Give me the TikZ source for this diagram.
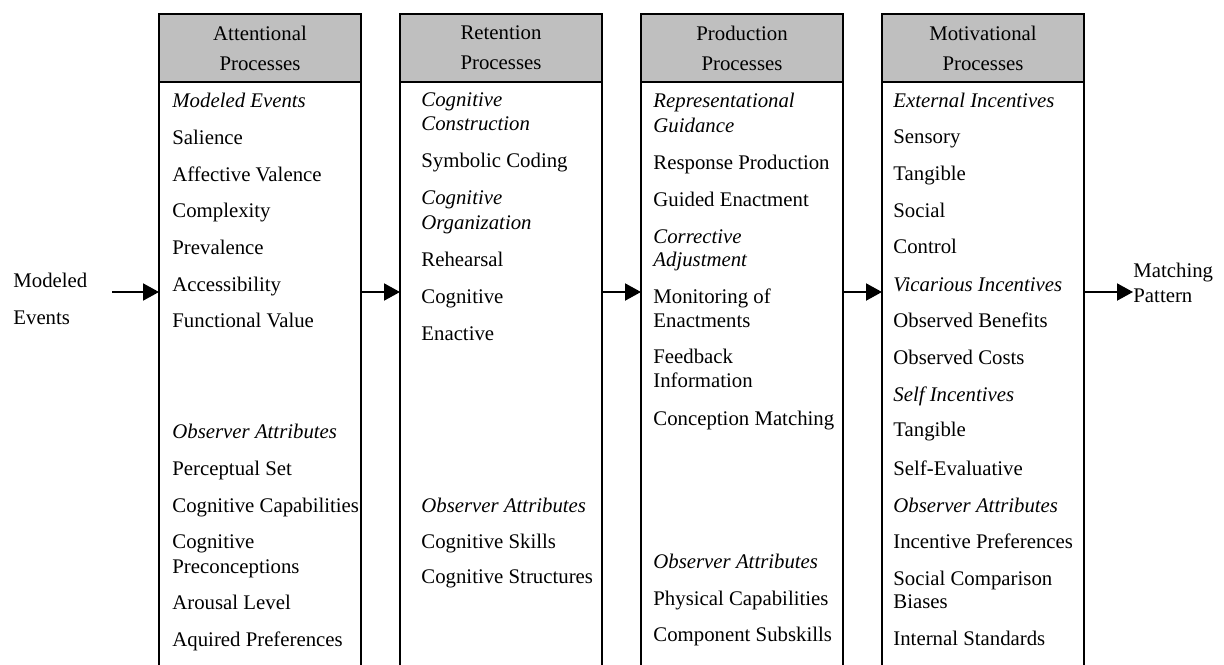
\documentclass[tikz,border=0pt]{standalone}
\usepackage{fontspec}
\setmainfont{Liberation Serif}
\usetikzlibrary{arrows.meta,positioning}

\begin{document}
\begin{tikzpicture}[x=0.5pt,y=-0.5pt,font=\fontsize{10.4}{15}\selectfont,
	head/.style = {shape=rectangle,draw,line width=1pt,fill=black!25,align=center,minimum width=101pt,minimum height=34pt,inner sep=0pt,outer sep=0pt},
	body/.style = {shape=rectangle,draw,line width=1pt,minimum width=101pt,minimum height=310pt,inner sep=0pt,outer sep=0pt},
	item/.style = {anchor=base west,inner sep=0pt},
	flow/.style = {-{Triangle[length=8pt,width=8.5pt]},line width=1pt}]
		\useasboundingbox (0,0) rectangle (1224,664);
		\clip (0,0) rectangle (1224,664);

		\node (att) [head] at (260,48) {Attentional\\Processes};
		\node (ret) [head,right=19.5pt of att] {Retention\\Processes};
		\node (pro) [head,right=19.5pt of ret] {Production\\Processes};
		\node (mot) [head,right=19.5pt of pro] {Motivational\\Processes};

		\node (attbody) [body,below=0pt of att] {};
		\node (retbody) [body,below=0pt of ret] {};
		\node (probody) [body,below=0pt of pro] {};
		\node (motbody) [body,below=0pt of mot] {};

		\foreach \y/\t in {107/\textit{Modeled Events},144/Salience,181/Affective Valence,217/Complexity,254/Prevalence,291/Accessibility,327/Functional Value,438/\textit{Observer Attributes},475/Perceptual Set,512/Cognitive Capabilities,548/Cognitive,573/Preconceptions,609/Arousal Level,646/Aquired Preferences}
			\node [item] at (172,\y) {\t};
		\foreach \y/\t in {106/\textit{Cognitive},130/\textit{Construction},167/Symbolic Coding,204/\textit{Cognitive},229/\textit{Organization},266/Rehearsal,303/Cognitive,340/Enactive,512/\textit{Observer Attributes},548/Cognitive Skills,583/Cognitive Structures}
			\node [item] at (421,\y) {\t};
		\foreach \y/\t in {107/\textit{Representational},132/\textit{Guidance},169/Response Production,206/Guided Enactment,243/\textit{Corrective},266/\textit{Adjustment},303/Monitoring of,327/Enactments,363/Feedback,387/Information,425/Conception Matching,568/\textit{Observer Attributes},605/Physical Capabilities,641/Component Subskills}
			\node [item] at (653,\y) {\t};
		\foreach \y/\t in {107/\textit{External Incentives},143/Sensory,180/Tangible,217/Social,253/Control,291/\textit{Vicarious Incentives},327/Observed Benefits,364/Observed Costs,401/\textit{Self Incentives},436/Tangible,475/Self-Evaluative,512/\textit{Observer Attributes},548/Incentive Preferences,585/Social Comparison,608/Biases,645/Internal Standards}
			\node [item] at (893,\y) {\t};

		\node (src) [anchor=west,align=left,inner sep=0pt,font=\fontsize{10.4}{18.5}\selectfont] at (13,299) {Modeled\\Events};
		\node (pat) [anchor=west,align=left,inner sep=0pt,font=\fontsize{10.4}{12.5}\selectfont] at (1133,283) {Matching\\Pattern};
		\coordinate (mid) at (112,292);

		\draw[flow] (mid) -- (attbody.west |- mid);
		\draw[flow] (attbody.east |- mid) -- (retbody.west |- mid);
		\draw[flow] (retbody.east |- mid) -- (probody.west |- mid);
		\draw[flow] (probody.east |- mid) -- (motbody.west |- mid);
		\draw[flow] (motbody.east |- mid) -- (pat.west |- mid);
\end{tikzpicture}
\end{document}
